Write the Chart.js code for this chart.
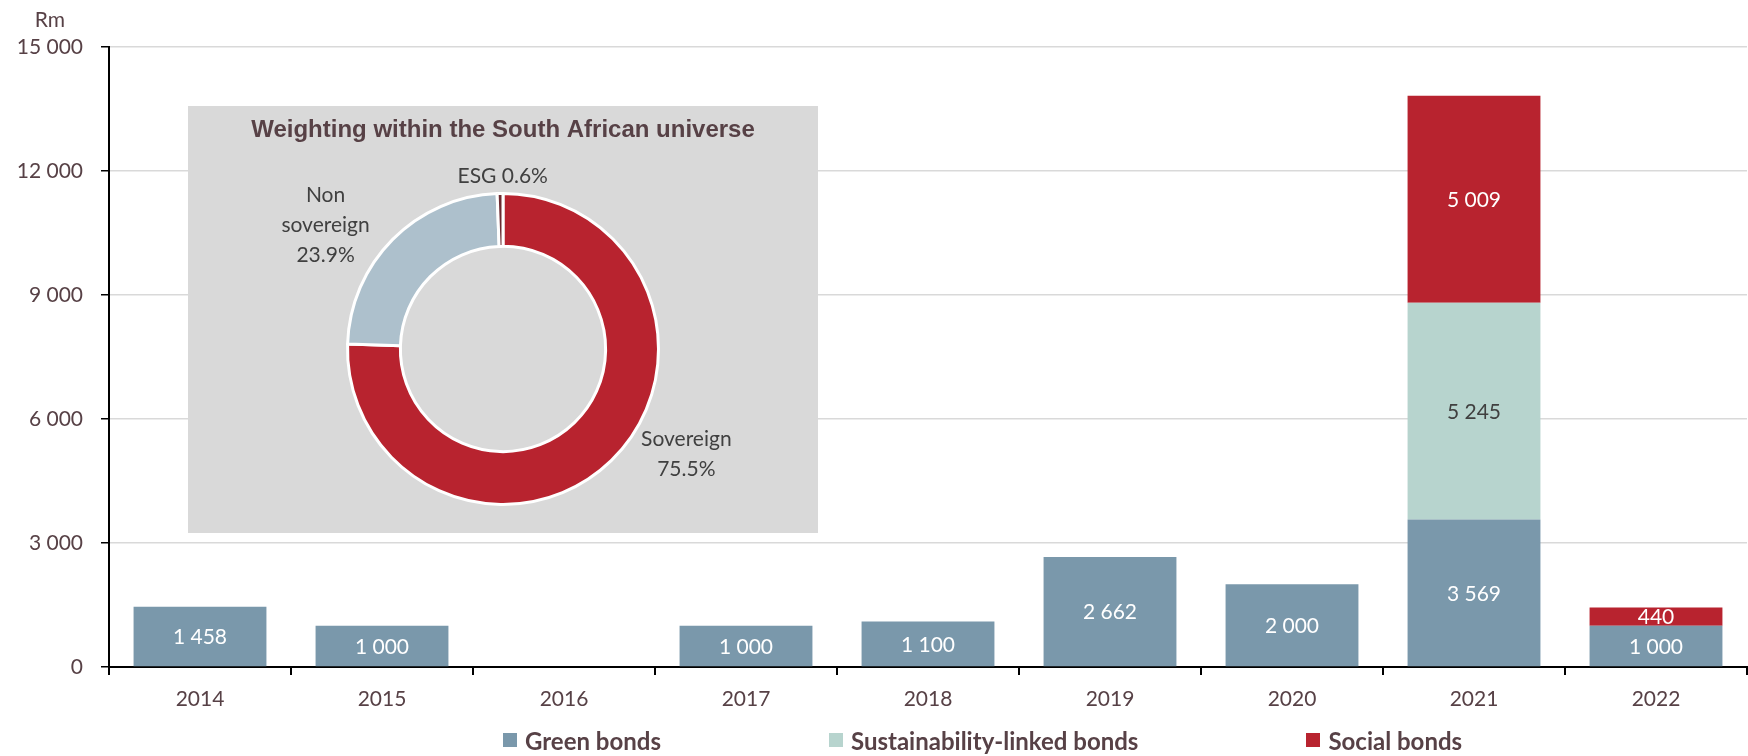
<!DOCTYPE html>
<html>
<head>
<meta charset="utf-8">
<script src="https://cdn.jsdelivr.net/npm/chart.js@4.4.1/dist/chart.umd.min.js"></script>
<style>
  html, body { margin: 0; padding: 0; background: #fff; }
  #wrap { position: relative; width: 1748px; height: 756px; overflow: hidden; }
  #main { position: absolute; left: 0; top: 0; }
  #inset { position: absolute; left: 188px; top: 106px; width: 630px; height: 427px; background: #d9d9d9; }
  #legend { position: absolute; left: 503px; top: 727px; display: flex; gap: 168px;
            font: bold 24px Lato, sans-serif; color: #574146; }
  #legend .item { display: flex; align-items: center; height: 26px; }
  #legend .sw { width: 14px; height: 14px; margin-right: 8px; }
</style>
</head>
<body>
<div id="wrap">
  <canvas id="main" width="1748" height="756"></canvas>
  <div id="inset"><canvas id="donut" width="630" height="427"></canvas></div>
  <div id="legend"></div>
</div>
<script>
// --- DATA ---
const years = ['2014', '2015', '2016', '2017', '2018', '2019', '2020', '2021', '2022'];
const greenBonds = [1458, 1000, null, 1000, 1100, 2662, 2000, 3569, 1000];
const sustainabilityLinked = [null, null, null, null, null, null, null, 5245, null];
const socialBonds = [null, null, null, null, null, null, null, 5009, 440];
const yTicks = [0, 3000, 6000, 9000, 12000, 15000];

const segmentNames = ['Sovereign', 'Non sovereign', 'ESG'];
const segmentShares = [75.5, 23.9, 0.6];
const insetTitle = 'Weighting within the South African universe';

// --- STYLE ---
const textColor = '#574146';
const tickFont = { family: 'Lato', size: 21 };

// label placement around the ring: angle shift (deg) from slice middle, distance in radii
const labelSpots = [
  { shift: -16, dist: 1.36, lines: ['Sovereign'] },
  { shift: -10, dist: 1.39, lines: ['Non', 'sovereign'] },
  { shift: 1, dist: 1.11, lines: null }
];

function fmt(v) { return String(v).replace(/\B(?=(\d{3})+(?!\d))/g, ' '); }

// --- PLUGINS ---
const barLabels = {
  id: 'barLabels',
  afterDatasetsDraw(chart) {
    const ctx = chart.ctx;
    ctx.save();
    ctx.font = '21px Lato';
    ctx.textAlign = 'center';
    ctx.textBaseline = 'middle';
    chart.data.datasets.forEach((ds, i) => {
      chart.getDatasetMeta(i).data.forEach((bar, j) => {
        const v = ds.data[j];
        if (v == null) return;
        ctx.fillStyle = ds.labelColor;
        ctx.fillText(fmt(v), bar.x, (bar.y + bar.base) / 2 + 1);
      });
    });
    ctx.restore();
  }
};

const unitLabel = {
  id: 'unitLabel',
  afterDraw(chart) {
    const ctx = chart.ctx;
    const s = chart.scales.y;
    ctx.save();
    ctx.font = '21px Lato';
    const right = s.right - 8 - 18;
    const w = ctx.measureText(fmt(yTicks[yTicks.length - 1])).width;
    ctx.fillStyle = textColor;
    ctx.textAlign = 'center';
    ctx.textBaseline = 'middle';
    ctx.fillText('Rm', right - w / 2, s.top - 27);
    ctx.restore();
  }
};

// inset title, drawn across the whole inset width
const insetHeading = {
  id: 'insetHeading',
  afterDraw(chart) {
    const ctx = chart.ctx;
    ctx.save();
    ctx.font = "bold 24px 'Liberation Sans', Arial, sans-serif";
    ctx.fillStyle = textColor;
    ctx.textAlign = 'center';
    ctx.textBaseline = 'middle';
    ctx.fillText(insetTitle, chart.width / 2, 24);
    ctx.restore();
  }
};

const donutLabels = {
  id: 'donutLabels',
  afterDatasetsDraw(chart) {
    const ctx = chart.ctx;
    const ds = chart.data.datasets[0];
    ctx.save();
    ctx.font = '21px Lato';
    ctx.fillStyle = '#404040';
    ctx.textAlign = 'center';
    ctx.textBaseline = 'middle';
    chart.getDatasetMeta(0).data.forEach((arc, i) => {
      const p = arc.getProps(['x', 'y', 'startAngle', 'endAngle', 'outerRadius']);
      const spot = labelSpots[i];
      const a = (p.startAngle + p.endAngle) / 2 + spot.shift * Math.PI / 180;
      const r = p.outerRadius * spot.dist;
      const cx = p.x + Math.cos(a) * r;
      const cy = p.y + Math.sin(a) * r;
      const pct = ds.data[i].toFixed(1) + '%';
      const lines = spot.lines ? [...spot.lines, pct] : [chart.data.labels[i] + ' ' + pct];
      const lh = 30;
      lines.forEach((t, k) => {
        ctx.fillText(t, cx, cy + (k - (lines.length - 1) / 2) * lh);
      });
    });
    ctx.restore();
  }
};

// --- MAIN CHART ---
const datasets = [
  { label: 'Green bonds', data: greenBonds, backgroundColor: '#7a98ab', labelColor: '#ffffff' },
  { label: 'Sustainability-linked bonds', data: sustainabilityLinked, backgroundColor: '#b7d4ce', labelColor: '#404040' },
  { label: 'Social bonds', data: socialBonds, backgroundColor: '#b8232f', labelColor: '#ffffff' }
];

new Chart(document.getElementById('main'), {
  type: 'bar',
  data: {
    labels: years,
    datasets: datasets.map(d => ({ ...d, barPercentage: 0.73, categoryPercentage: 1, borderWidth: 0 }))
  },
  options: {
    responsive: false,
    animation: false,
    layout: { padding: { top: 47, right: 1, bottom: 29, left: 0 } },
    plugins: { legend: { display: false }, tooltip: { enabled: false } },
    scales: {
      x: {
        stacked: true,
        afterFit: s => { s.height = 60; },
        grid: { offset: true, drawOnChartArea: false, color: '#000', lineWidth: 2, tickLength: 8 },
        border: { color: '#000', width: 2 },
        ticks: { color: textColor, font: tickFont, padding: 12 }
      },
      y: {
        stacked: true,
        min: 0,
        max: 15000,
        afterFit: s => { s.width = 109; },
        afterBuildTicks: s => { s.ticks = yTicks.map(v => ({ value: v })); },
        grid: {
          color: c => (c.tick && c.tick.value === 0 ? '#000' : '#d9d9d9'),
          lineWidth: 1.5,
          tickColor: '#000',
          tickLength: 8
        },
        border: { color: '#000', width: 2 },
        ticks: { color: textColor, font: tickFont, padding: 18, callback: v => fmt(v) }
      }
    }
  },
  plugins: [barLabels, unitLabel]
});

// --- INSET DONUT ---
new Chart(document.getElementById('donut'), {
  type: 'doughnut',
  data: {
    labels: segmentNames,
    datasets: [{
      data: segmentShares,
      backgroundColor: ['#b8232f', '#adc0cc', '#6b2a30'],
      borderColor: '#ffffff',
      borderWidth: 3
    }]
  },
  options: {
    responsive: false,
    animation: false,
    cutout: '66%',
    layout: { padding: { top: 86, left: 158, right: 158, bottom: 27 } },
    plugins: { legend: { display: false }, tooltip: { enabled: false } }
  },
  plugins: [donutLabels, insetHeading]
});

// --- LEGEND ---
const legendEl = document.getElementById('legend');
datasets.forEach(d => {
  const item = document.createElement('div');
  item.className = 'item';
  item.innerHTML = `<span class="sw" style="background:${d.backgroundColor}"></span><span>${d.label}</span>`;
  legendEl.appendChild(item);
});
</script>
</body>
</html>
